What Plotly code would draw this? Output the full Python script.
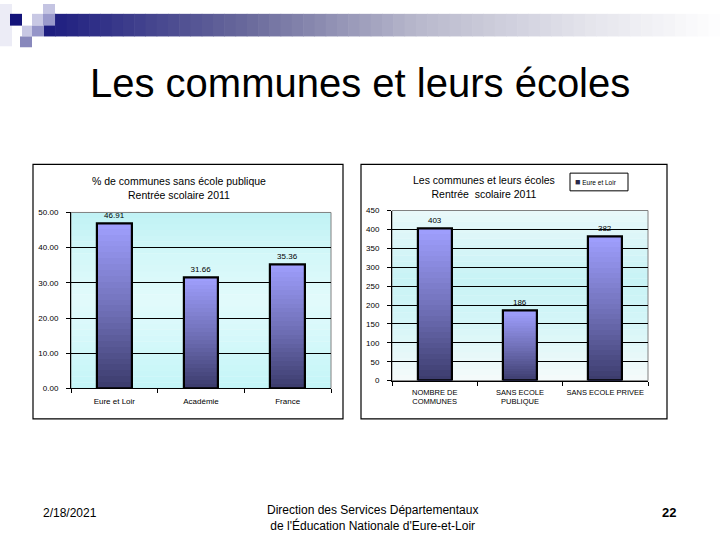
import plotly.graph_objects as go

# ---- data ----
left_categories = ["Eure et Loir", "Académie", "France"]
left_values = [46.91, 31.66, 35.36]
left_ticks = [0, 10, 20, 30, 40, 50]

right_categories = ["NOMBRE DE<br>COMMUNES", "SANS ECOLE<br>PUBLIQUE", "SANS ECOLE PRIVEE"]
right_values = [403, 186, 382]
right_ticks = [0, 50, 100, 150, 200, 250, 300, 350, 400, 450]

series_name = "Eure et Loir"
slide_title = "Les communes et leurs écoles"
left_title = "% de communes sans école publique<br>Rentrée scolaire 2011"
right_title = "Les communes et leurs écoles<br>Rentrée  scolaire 2011"
footer_date = "2/18/2021"
footer_center = "Direction des Services Départementaux<br>de l'Éducation Nationale d'Eure-et-Loir"
page_number = "22"

W, H = 720, 540
FONT = "Liberation Sans, Arial, sans-serif"


def px(x):
    return x / W


def py(y):
    return 1 - y / H


def hexrgb(h):
    h = h.lstrip("#")
    return tuple(int(h[i:i + 2], 16) for i in (0, 2, 4))


def interp(stops, t):
    for (t0, c0), (t1, c1) in zip(stops, stops[1:]):
        if t0 <= t <= t1:
            a = (t - t0) / (t1 - t0) if t1 > t0 else 0
            r0, g0, b0 = hexrgb(c0)
            r1, g1, b1 = hexrgb(c1)
            return "rgb(%d,%d,%d)" % (r0 + (r1 - r0) * a, g0 + (g1 - g0) * a, b0 + (b1 - b0) * a)
    return stops[-1][1]


fig = go.Figure()

BAR_W = 0.4
N = 28
bar_stops = [(0.0, "#3b3b6c"), (0.45, "#6e6eb4"), (1.0, "#a0a0ff")]


def add_bars(cats, vals, xa, ya, fmt):
    for k in range(N):
        f = 1 - k / N
        col = interp(bar_stops, 1 - (k + 0.5) / N)
        fig.add_trace(go.Bar(
            x=cats, y=[v * f for v in vals], width=BAR_W,
            marker=dict(color=col, line=dict(width=0)),
            xaxis=xa, yaxis=ya, showlegend=False, hoverinfo="skip"))
    fig.add_trace(go.Bar(
        x=cats, y=vals, width=BAR_W, name=series_name,
        marker=dict(color="rgba(0,0,0,0)", line=dict(color="black", width=2.2)),
        text=[fmt.format(v) for v in vals], textposition="outside",
        textfont=dict(size=8, color="black", family=FONT),
        cliponaxis=False, xaxis=xa, yaxis=ya, showlegend=False))


add_bars(left_categories, left_values, "x", "y", "{:.2f}")
add_bars(right_categories, right_values, "x2", "y2", "{:d}")

shapes = []

# ---- header decoration ----
deco = [
    (0, 0, 12, 43, "#ececf6"),
    (10, 10, 22, 22, "#14147a"),
    (32, 10, 44, 22, "#c8c8e4"),
    (43, 0, 55, 10, "#c4c4e2"),
    (43, 10, 55, 22, "#9a9acc"),
    (22, 22, 32, 33, "#c8c8e4"),
    (32, 22, 44, 33, "#9494c8"),
    (20, 33, 32, 44, "#8888bc"),
]
grad_stops = [(0.0, "#1c1c80"), (0.3, "#6a6a9c"), (0.55, "#b8b8cc"), (0.8, "#e4e4ec"), (1.0, "#ffffff")]
x0, x1 = 44, 720
nseg = 60
for i in range(nseg):
    a = x0 + (x1 - x0) * i / nseg
    b = x0 + (x1 - x0) * (i + 1) / nseg + 0.6
    shapes.append(dict(type="rect", xref="paper", yref="paper",
                       x0=px(a), x1=px(b), y0=py(33), y1=py(10),
                       fillcolor=interp(grad_stops, (i + 0.5) / nseg), line=dict(width=0), layer="below"))
for (a, t, b, bt, c) in deco:
    shapes.append(dict(type="rect", xref="paper", yref="paper",
                       x0=px(a), x1=px(b), y0=py(bt), y1=py(t),
                       fillcolor=c, line=dict(width=0), layer="below"))

# ---- chart frames ----
for (a, t, b, bt) in [(33, 163, 343, 422), (361, 163, 667, 422)]:
    shapes.append(dict(type="rect", xref="paper", yref="paper",
                       x0=px(a), x1=px(b), y0=py(bt), y1=py(t),
                       fillcolor="white", line=dict(color="black", width=1.2), layer="below"))

# ---- plot backgrounds (gradients) ----
left_bg = [(0.0, "#c4f6f8"), (0.5, "#e2fbfc"), (0.75, "#d4f8f9"), (1.0, "#c0f2f5")]
right_bg = [(0.0, "#f6fbfb"), (0.35, "#d4f6f8"), (0.6, "#c8f3f6"), (1.0, "#eaf9fa")]
for xr, yr, stops in [("x domain", "y domain", left_bg), ("x2 domain", "y2 domain", right_bg)]:
    nb = 30
    for i in range(nb):
        shapes.append(dict(type="rect", xref=xr, yref=yr, x0=0, x1=1,
                           y0=i / nb, y1=(i + 1) / nb + 0.002,
                           fillcolor=interp(stops, (i + 0.5) / nb), line=dict(width=0), layer="below"))
    shapes.append(dict(type="rect", xref=xr, yref=yr, x0=0, x1=1, y0=0, y1=1,
                       line=dict(color="#808080", width=1), layer="below"))

# legend box
shapes.append(dict(type="rect", xref="paper", yref="paper",
                   x0=px(570), x1=px(628), y0=py(190), y1=py(172),
                   fillcolor="white", line=dict(color="black", width=1), layer="below"))

annotations = [
    dict(text=slide_title, x=0.5, y=py(80), xref="paper", yref="paper", showarrow=False,
         font=dict(size=40, family=FONT, color="black"), xanchor="center", yanchor="middle"),
    dict(text=left_title, x=px(179), y=py(187), xref="paper", yref="paper", showarrow=False,
         font=dict(size=10.5, family=FONT, color="black"), xanchor="center", yanchor="middle"),
    dict(text=right_title, x=px(484), y=py(186), xref="paper", yref="paper", showarrow=False,
         font=dict(size=10.5, family=FONT, color="black"), xanchor="center", yanchor="middle"),
    dict(text="<span style='color:#2a2a4a;font-size:9px'>■</span> " + series_name,
         x=px(573), y=py(181),
         xref="paper", yref="paper", showarrow=False,
         font=dict(size=6.5, family=FONT, color="black"), xanchor="left", yanchor="middle"),
    dict(text=footer_date, x=px(70), y=py(518), xref="paper", yref="paper", showarrow=False,
         font=dict(size=12, family=FONT, color="black"), xanchor="center", yanchor="middle"),
    dict(text=footer_center, x=px(372), y=py(523), xref="paper", yref="paper", showarrow=False,
         font=dict(size=12, family=FONT, color="black"), xanchor="center", yanchor="middle"),
    dict(text="<b>" + page_number + "</b>", x=px(669), y=py(517), xref="paper", yref="paper",
         showarrow=False, font=dict(size=13, family=FONT, color="black"),
         xanchor="center", yanchor="middle"),
]

axis_common = dict(showline=True, linecolor="black", linewidth=1, ticks="outside", ticklen=4,
                   tickcolor="black")

fig.update_layout(
    autosize=True, margin=dict(l=0, r=0, t=0, b=0),
    paper_bgcolor="white", plot_bgcolor="rgba(0,0,0,0)",
    barmode="overlay", bargap=0, showlegend=False,
    font=dict(family=FONT, color="black"),
    shapes=shapes, annotations=annotations,
    xaxis=dict(domain=[px(71), px(331)], anchor="y", tickson="boundaries", showgrid=False,
               tickangle=0, ticklabelstandoff=5,
               tickfont=dict(size=8, family=FONT, color="black"), **axis_common),
    yaxis=dict(domain=[py(391), py(212)], anchor="x", range=[0, 50], tickvals=left_ticks,
               tickformat=".2f", showgrid=True, gridcolor="black", gridwidth=1, zeroline=False,
               ticklabelstandoff=6, tickfont=dict(size=8, family=FONT, color="black"),
               **axis_common),
    xaxis2=dict(domain=[px(392), px(648)], anchor="y2", tickson="boundaries", showgrid=False,
                tickangle=0, ticklabelstandoff=4,
                tickfont=dict(size=7.5, family=FONT, color="black"), **axis_common),
    yaxis2=dict(domain=[py(383), py(210)], anchor="x2", range=[0, 450], tickvals=right_ticks,
                showgrid=True, gridcolor="black", gridwidth=1, zeroline=False,
                ticklabelstandoff=6, tickfont=dict(size=8, family=FONT, color="black"),
                **axis_common),
)

fig.write_html(
    "out.html",
    config={"displayModeBar": False, "responsive": True},
    default_width="100vw", default_height="100vh",
    post_script="var gd=document.getElementById('{plot_id}');"
                "document.body.style.margin='0';document.body.style.overflow='hidden';"
                "document.documentElement.style.overflow='hidden';"
                "gd.style.position='fixed';gd.style.top='0px';gd.style.left='0px';"
                "gd.style.width='100vw';gd.style.height='100vh';"
                "Plotly.Plots.resize(gd);",
)
